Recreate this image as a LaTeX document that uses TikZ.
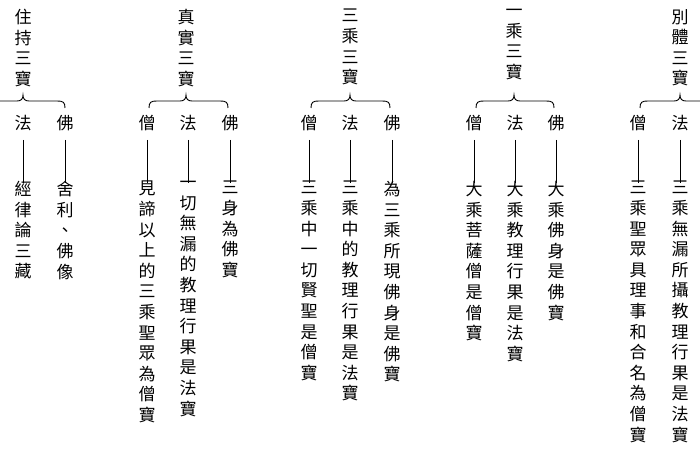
\documentclass[tikz,border=0pt]{standalone}
\usepackage{fontspec}
\newfontfamily\cjk{Noto Sans CJK TC}
\usetikzlibrary{calc}
\tikzset{
  vt/.style={font=\cjk\fontsize{17}{20.6}\selectfont, align=center, inner sep=0pt, anchor=north},
  br/.style={font=\cjk\fontsize{17}{20.6}\selectfont, inner sep=0pt},
  ln/.style={line width=0.9pt, black},
}
\newcommand\brc[4]{% L C R y
  \draw[ln] (#1,#4-7) .. controls (#1,#4-1) and (#1+2,#4) .. (#1+8,#4) -- (#2-6,#4)
    .. controls (#2-2,#4) and (#2,#4+2) .. (#2,#4+6)
    .. controls (#2,#4+2) and (#2+2,#4) .. (#2+6,#4) -- (#3-8,#4)
    .. controls (#3-2,#4) and (#3,#4-1) .. (#3,#4-7);}
\newcommand\leaf[4]{% name x label text
  \node[br] (#1b) at (#2,-123) {#3};
  \node[vt] (#1t) at (#2,-181) {#4};
  \draw[ln] ($(#1b)+(0,-17)$) -- ($(#1t.north)+(0,-2)$);}
\begin{document}
\begin{tikzpicture}[x=1pt,y=1pt]
\useasboundingbox (0,0) rectangle (700,-470);
\clip (0,0) rectangle (700,-470);
\fill[white] (0,0) rectangle (700,-470);
% A
\node[vt] (ta) at (23,-9) {住\\持\\三\\寶};
\brc{-19}{23}{65}{-101}
\leaf{a2}{23}{法}{經\\律\\論\\三\\藏}
\leaf{a3}{65}{佛}{舍\\利\\、\\佛\\像}
\draw[ln] (-19,-140) -- (-19,-178);
% B
\node[vt] (tb) at (186,-9) {真\\實\\三\\寶};
\brc{149}{186}{228}{-101}
\leaf{b1}{147}{僧}{見\\諦\\以\\上\\的\\三\\乘\\聖\\眾\\為\\僧\\寶}
\leaf{b2}{188}{法}{一\\切\\無\\漏\\的\\教\\理\\行\\果\\是\\法\\寶}
\leaf{b3}{230}{佛}{三\\身\\為\\佛\\寶}
% C
\node[vt] (tc) at (350,-9) {三\\乘\\三\\寶};
\brc{311}{350}{390}{-101}
\leaf{c1}{309}{僧}{三\\乘\\中\\一\\切\\賢\\聖\\是\\僧\\寶}
\leaf{c2}{350}{法}{三\\乘\\中\\的\\教\\理\\行\\果\\是\\法\\寶}
\leaf{c3}{392}{佛}{為\\三\\乘\\所\\現\\佛\\身\\是\\佛\\寶}
% D
\node[vt] (td) at (514,-9) {一\\乘\\三\\寶};
\brc{476}{514}{554}{-101}
\leaf{d1}{474}{僧}{大\\乘\\菩\\薩\\僧\\是\\僧\\寶}
\leaf{d2}{515}{法}{大\\乘\\教\\理\\行\\果\\是\\法\\寶}
\leaf{d3}{556}{佛}{大\\乘\\佛\\身\\是\\佛\\寶}
% E
\node[vt] (te) at (680,-9) {別\\體\\三\\寶};
\brc{640}{680}{722}{-101}
\leaf{e1}{638}{僧}{三\\乘\\聖\\眾\\具\\理\\事\\和\\合\\名\\為\\僧\\寶}
\leaf{e2}{680}{法}{三\\乘\\無\\漏\\所\\攝\\教\\理\\行\\果\\是\\法\\寶}
\end{tikzpicture}
\end{document}
